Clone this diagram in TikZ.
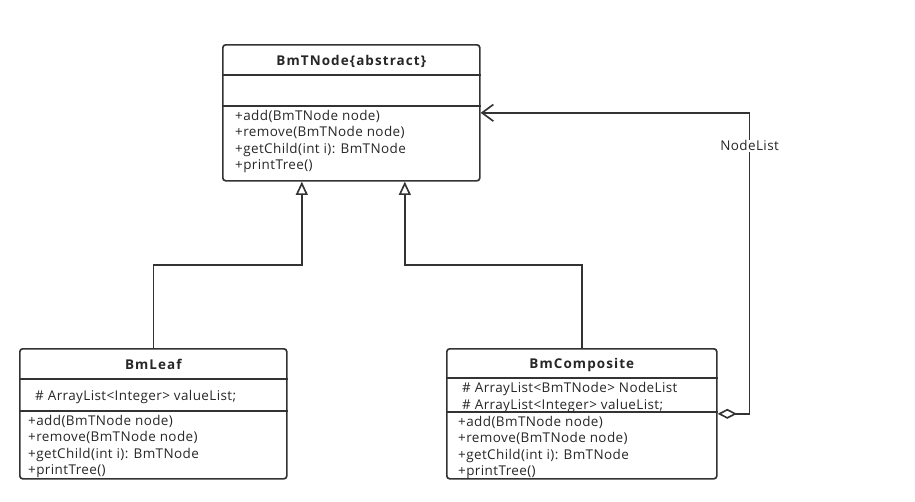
\documentclass[tikz,border=0pt]{standalone}
\usepackage{fontspec}
\setmainfont{Open Sans}[LetterSpace=3]
\usetikzlibrary{arrows.meta,calc}

\begin{document}
\begin{tikzpicture}[
    x=0.03cm, y=-0.03cm,
    font=\fontsize{11.5}{13}\selectfont,
    % traço comum a caixas e conectores
    linha/.style={line width=1.4pt, draw=black!80},
    caixa/.style={linha, rounded corners=2.5pt, anchor=north west, inner sep=0pt},
    titulo/.style={font=\fontsize{11.5}{13}\selectfont\bfseries\addfontfeature{LetterSpace=8}, inner sep=0pt, text=black!85},
    texto/.style={anchor=west, inner sep=0pt, text=black!85},
    heranca/.style={linha, -{Triangle[open, length=0.4cm, width=0.36cm]}},
    agregacao/.style={linha, {Diamond[open, length=0.58cm, width=0.3cm]}-{Straight Barb[length=0.34cm, width=0.5cm]}}
]

% =========================================================
% === PARÂMETROS (unidades em pixels da figura) ===
% =========================================================
\def\passoLinha{16.8} % distância vertical entre as linhas de texto
% =========================================================

% Macro da caixa de classe
% #1: nome do node, #2,#3: canto superior esquerdo, #4: largura, #5: altura
\def\classbox#1(#2,#3)#4#5{
    \node[caixa, minimum width=#4*0.03cm, minimum height=#5*0.03cm] (#1) at (#2,#3) {};
}
% Macro da linha divisória, #2: distância a partir do topo
\def\divisoria#1#2{
    \draw[linha] ($(#1.north west)+(0,#2)$) -- ($(#1.north east)+(0,#2)$);
}
% Macro dos métodos (as três classes têm os mesmos)
\def\metodos#1#2#3{
    \foreach \op [count=\i] in {{+add(BmTNode node)},{+remove(BmTNode node)},{+getChild(int i): BmTNode},{+printTree()}}
        \node[texto] (#1m\i) at ($(#1.north west)+(#2,{#3+(\i-1)*\passoLinha})$) {\op};
}

\useasboundingbox (0,0) rectangle (915,502);

% --- Classe abstrata ---
\classbox{tnode}(222,44){257}{136}
\divisoria{tnode}{31}
\divisoria{tnode}{62}
\node[titulo] (tnodeT) at ($(tnode.north)+(0,17)$) {BmTNode\{abstract\}};
\metodos{tnode}{13}{72}

% --- BmLeaf ---
\classbox{leaf}(19,348){267}{130}
\divisoria{leaf}{31}
\divisoria{leaf}{63}
\node[titulo] (leafT) at ($(leaf.north)+(0,16)$) {BmLeaf};
\node[texto] (leafA1) at ($(leaf.north west)+(16,49)$) {\# ArrayList<Integer> valueList;};
\metodos{leaf}{9}{73}

% --- BmComposite ---
\classbox{comp}(446,348){270}{130}
\divisoria{comp}{30}
\divisoria{comp}{64}
\node[titulo] (compT) at ($(comp.north)+(0,17)$) {BmComposite};
\node[texto] (compA1) at ($(comp.north west)+(16,41)$) {\# ArrayList<BmTNode> NodeList};
\node[texto] (compA2) at ($(comp.north west)+(16,58)$) {\# ArrayList<Integer> valueList;};
\metodos{comp}{12}{74}

% --- Herança ---
\coordinate (baseL) at ($(tnode.south)+(-49.5,0)$);
\coordinate (baseR) at ($(tnode.south)+(53.5,0)$);
\draw[heranca] (leaf.north) |- ($(leaf.north)!.5!(baseL)$) -| (baseL);
\draw[heranca] (comp.north) |- ($(comp.north)!.5!(baseR)$) -| (baseR);

% --- Agregação ---
\draw[agregacao] (comp.east) -- ++(32,0)
    |- node[pos=0.445, fill=white, inner sep=1pt, text=black!85] (rotulo) {NodeList} (tnode.east);

\end{tikzpicture}
\end{document}
